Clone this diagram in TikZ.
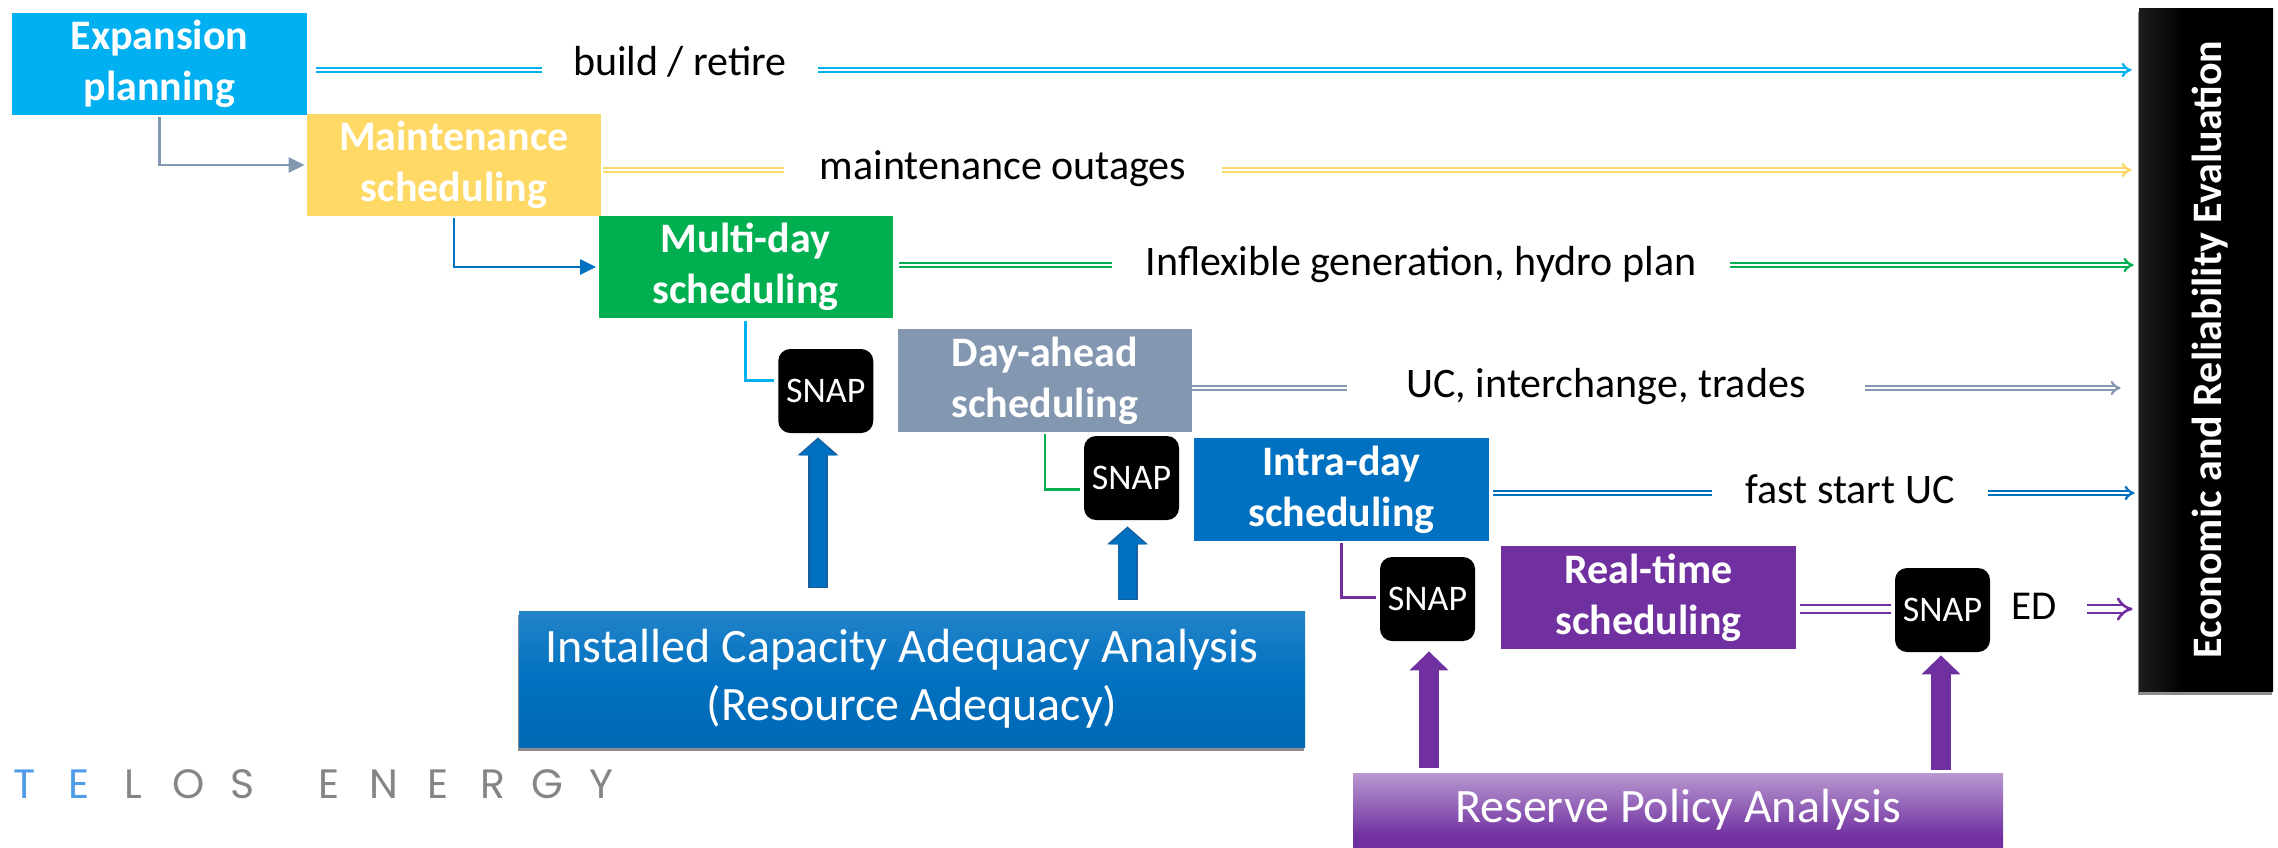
\documentclass[tikz,border=0pt]{standalone}
\usepackage{fontspec}
\setmainfont{Carlito}
\newfontfamily\logofont{Poppins}
\usetikzlibrary{arrows.meta,shadows,calc}
\definecolor{cExp}{HTML}{00B0F0}
\definecolor{cMnt}{HTML}{FFD966}
\definecolor{cMul}{HTML}{00B050}
\definecolor{cDay}{HTML}{8497B0}
\definecolor{cInt}{HTML}{0070C0}
\definecolor{cPur}{HTML}{7030A0}
\definecolor{cIntD}{HTML}{17609F}
\definecolor{cLogo}{HTML}{858585}
\definecolor{cLogoB}{HTML}{4E9BE8}
\pgfdeclareverticalshading{instshade}{100bp}{color(0bp)=(cInt!88!black); color(50bp)=(cInt); color(100bp)=(cInt!72!white)}
\pgfdeclareverticalshading{resshade}{100bp}{color(0bp)=(cPur); color(32bp)=(cPur); color(100bp)=(cPur!20!white)}
\pgfdeclarehorizontalshading{evalshade}{100bp}{color(0bp)=(black!72); color(42bp)=(black); color(100bp)=(black)}
\tikzset{
  x=0.5pt,y=-0.5pt,
  stagebox/.style={rectangle,fill=#1,text=white,inner sep=0pt,align=center,font=\bfseries\fontsize{21}{25.5}\selectfont},
  snapbox/.style={rectangle,rounded corners=6pt,fill=black,text=white,inner sep=0pt,minimum width=47.5pt,font=\fontsize{18}{20}\selectfont},
  flowlabel/.style={inner ysep=0pt,inner xsep=#1,font=\fontsize{21}{25}\selectfont,text=black,anchor=base},
  dbl/.style={draw=#1,double=white,line width=1.15pt,double distance=1.1pt,-{Implies}},
  dblplain/.style={draw=#1,double=white,line width=1.15pt,double distance=1.1pt},
  elbow/.style={draw=#1,line width=1.2pt,-{Triangle[length=8pt,width=7.5pt]},shorten >=1pt,shorten <=1pt},
  minitip/.style={draw=#1,fill=#1,line width=0.5pt},
  bigblue/.style={draw=cIntD,line width=10pt,-{Triangle[length=9pt,width=20pt]}},
  bigblueIn/.style={draw=cInt,line width=8.4pt,-{Triangle[length=8pt,width=17.5pt]}},
  bigpurple/.style={draw=cPur,line width=10pt,-{Triangle[length=9.5pt,width=19pt]}},
  softshadow/.style={drop shadow={shadow xshift=-0.6pt,shadow yshift=-2pt,fill=black,opacity=0.45}},
}
\begin{document}
\begin{tikzpicture}
\useasboundingbox (0,0) rectangle (2278,847);

% analysis boxes
\node[softshadow,shading=instshade,text=white,inner sep=0pt,align=center,minimum width=393pt,minimum height=68pt,font=\fontsize{24}{29}\selectfont] (inst) at (912,679) {Installed Capacity Adequacy Analysis\hspace*{10pt}\\(Resource Adequacy)};
\node[shading=resshade,text=white,inner sep=0pt,minimum width=325pt,minimum height=37pt,font=\fontsize{24}{29}\selectfont] (res) at (1678,810) {Reserve Policy Analysis};
\node[softshadow,shading=evalshade,inner sep=0pt,minimum width=67pt,minimum height=341.5pt] (eval) at (2206,349.5) {};
\node[rotate=90,anchor=base,inner sep=0pt,text=white,font=\bfseries\fontsize{21}{25}\selectfont] (evaltxt) at (2221,349.5) {Economic and Reliability Evaluation};

% stages
\node[stagebox=cExp,minimum width=147.5pt,minimum height=51pt] (exp) at (159.5,64) {Expansion\\planning};
\node[stagebox=cMnt,minimum width=147pt,minimum height=51pt] (mnt) at (454,165) {Maintenance\\scheduling};
\node[stagebox=cMul,minimum width=147pt,minimum height=51pt] (mul) at (745.5,267) {Multi-day\\scheduling};
\node[stagebox=cDay,minimum width=147.25pt,minimum height=51.5pt] (day) at (1044.75,380.5) {Day-ahead\\scheduling};
\node[stagebox=cInt,minimum width=147.5pt,minimum height=51.5pt] (int) at (1341.5,489.5) {Intra-day\\scheduling};
\node[stagebox=cPur,minimum width=147.5pt,minimum height=51.5pt] (rt) at (1648.5,597.5) {Real-time\\scheduling};

% snap boxes
\node[snapbox,minimum height=42pt] (s1) at (825.75,391) {SNAP};
\node[snapbox,minimum height=42pt] (s2) at (1131.5,478) {SNAP};
\node[snapbox,minimum height=42pt] (s3) at (1427.5,599) {SNAP};
\node[snapbox,minimum height=42pt] (s4) at (1942.5,610) {SNAP};

% flow labels
\node[flowlabel=15.5pt] (l1) at (680,75) {build / retire};
\node[flowlabel=17.5pt] (l2) at (1003,179) {maintenance outages};
\node[flowlabel=16.5pt] (l3) at (1421,275) {Inflexible generation, hydro plan};
\node[flowlabel=29.5pt] (l4) at (1606,397) {UC, interchange, trades};
\node[flowlabel=16.5pt] (l5) at (1850,503) {fast start UC};
\node[inner sep=0pt,font=\fontsize{20.5}{25}\selectfont,anchor=base] (l6) at (2034,619) {ED};

% logo
\node[inner sep=0pt,anchor=base west,font=\logofont\fontsize{20.5}{24}\selectfont,text=cLogo] (logo) at (-3,798) {\def\L#1{\makebox[27.25pt]{#1}}\L{\color{cLogoB}T}\L{\color{cLogoB}E}\L{L}\L{O}\L{S}\hspace{16pt}\L{E}\L{N}\L{E}\L{R}\L{G}\L{Y}};

% row levels
\coordinate (r1) at (0,70);
\coordinate (r2) at (0,170);
\coordinate (r3) at (0,265);
\coordinate (r4) at (0,388);
\coordinate (r5) at (0,493);
\coordinate (r6) at (0,609);

% double flow lines
\draw[dblplain=cExp,shorten <=4.5pt] (exp.east |- r1) -- (l1.west |- r1);
\draw[dbl=cExp,shorten >=3.5pt] (l1.east |- r1) -- (eval.west |- r1);
\draw[dblplain=cMnt,shorten <=1pt] (mnt.east |- r2) -- (l2.west |- r2);
\draw[dbl=cMnt,shorten >=3.5pt] (l2.east |- r2) -- (eval.west |- r2);
\draw[dblplain=cMul,shorten <=3pt] (mul.east |- r3) -- (l3.west |- r3);
\draw[dbl=cMul,shorten >=2.5pt] (l3.east |- r3) -- (eval.west |- r3);
\draw[dblplain=cDay] (day.east |- r4) -- (l4.west |- r4);
\draw[dbl=cDay,shorten >=9pt] (l4.east |- r4) -- (eval.west |- r4);
\draw[dblplain=cInt,shorten <=2pt] (int.east |- r5) -- (l5.west |- r5);
\draw[dbl=cInt,shorten >=2pt] (l5.east |- r5) -- (eval.west |- r5);
\draw[dblplain=cPur,line width=1.3pt,double distance=2.6pt,shorten <=2pt,shorten >=2pt] (rt.east |- r6) -- (s4.west |- r6);
\coordinate (edstart) at (2087,609);
\draw[dbl=cPur,line width=1.3pt,double distance=2.6pt,shorten >=3pt] (edstart) -- (eval.west |- edstart);

% elbows
\draw[elbow=cDay] (exp.south) |- (mnt.west);
\draw[elbow=cInt] (mnt.south) |- (mul.west);
\coordinate (e1) at (s1.west |- day.west);
\coordinate (e2) at (s2.west |- int.west);
\coordinate (e3) at (s3.west |- rt.west);
\draw[draw=cExp,line width=1.2pt,shorten <=1.5pt,shorten >=2pt] (mul.south) |- (e1);
\draw[draw=cMul,line width=1.2pt,shorten <=1pt,shorten >=2pt] (day.south) |- (e2);
\draw[draw=cPur,line width=1.2pt,shorten <=1pt,shorten >=2pt] (int.south) |- (e3);

% snap outputs
\draw[draw=none,-{Triangle[length=8pt,width=7.5pt,color=cExp]},shorten >=1pt] (s1.east |- day.west) -- (day.west);
\draw[draw=none,-{Triangle[length=4.5pt,width=5pt,color=cMul]},shorten >=1pt] (s2.east |- int.west) -- (int.west);
\draw[draw=none,-{Triangle[length=8pt,width=7.5pt,color=cPur]},shorten >=1.5pt] (s3.east |- rt.west) -- (rt.west);

% big arrows
\coordinate (a1) at (818,0);
\coordinate (a2) at (1127.5,0);
\coordinate (a3) at (1429,0);
\coordinate (a4) at (1941,0);
\draw[bigblue,shorten <=11.5pt,shorten >=2pt] (a1 |- inst.north) -- (a1 |- s1.south);
\draw[bigblueIn,shorten <=12pt,shorten >=3pt] (a1 |- inst.north) -- (a1 |- s1.south);
\draw[bigblue,shorten <=5.5pt,shorten >=3pt] (a2 |- inst.north) -- (a2 |- s2.south);
\draw[bigblueIn,shorten <=6pt,shorten >=4pt] (a2 |- inst.north) -- (a2 |- s2.south);
\draw[bigpurple,shorten <=2.5pt,shorten >=5pt] (a3 |- res.north) -- (a3 |- s3.south);
\draw[bigpurple,shorten <=1.5pt,shorten >=1.5pt] (a4 |- res.north) -- (a4 |- s4.south);
\end{tikzpicture}
\end{document}
